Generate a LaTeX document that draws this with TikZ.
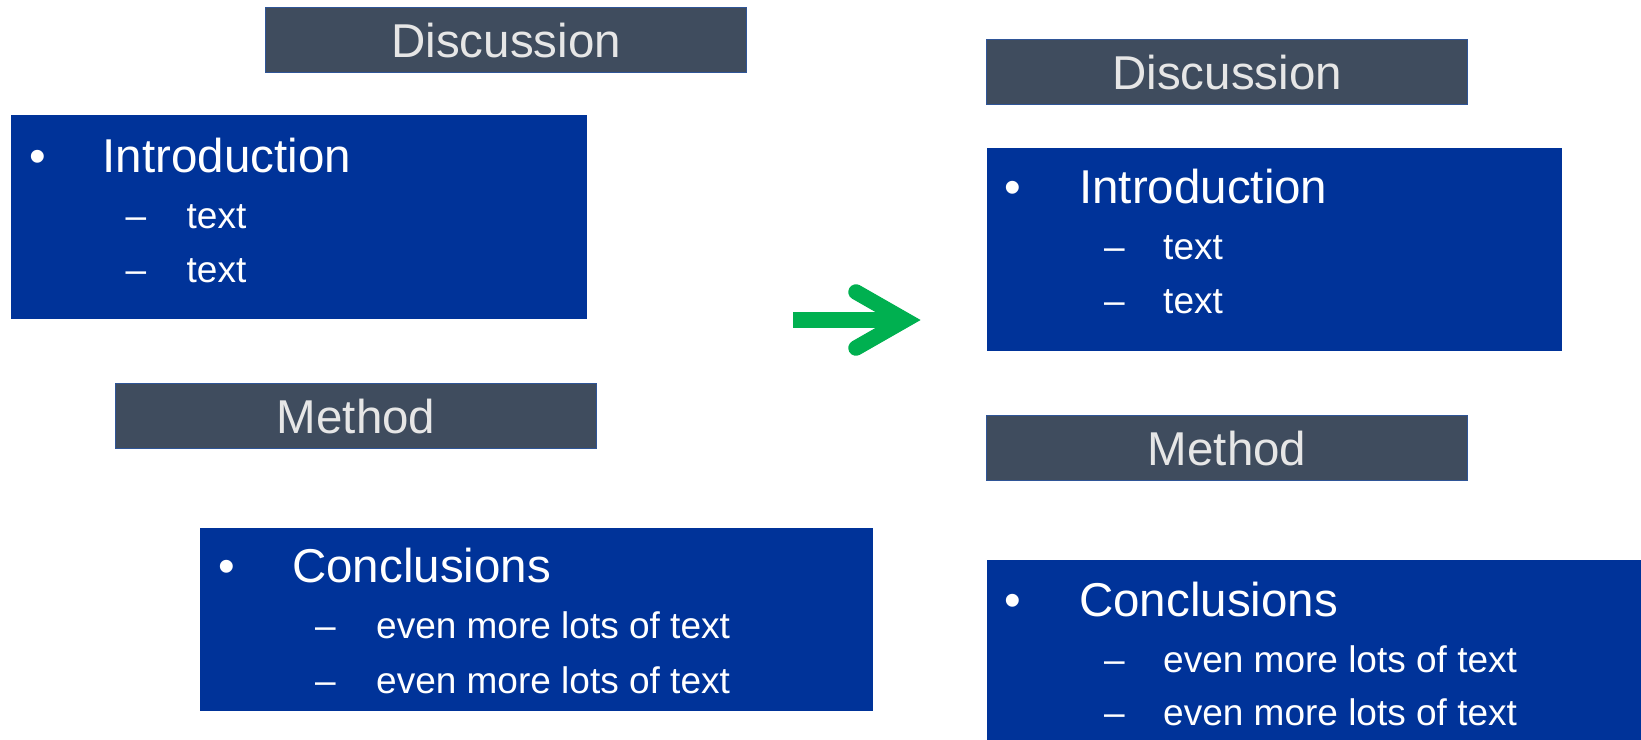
\documentclass[tikz,border=0pt]{standalone}
\usepackage{fontspec}
\setmainfont{Liberation Sans}
\definecolor{hdr}{HTML}{3F4C5E}
\definecolor{hdrline}{HTML}{2F5597}
\definecolor{boxblue}{HTML}{003399}
\definecolor{hdrtext}{HTML}{E6E6E6}
\definecolor{arrgreen}{HTML}{00B050}
\tikzset{
  hdrbox/.style={draw=hdrline, line width=1.3pt, fill=hdr, text=hdrtext,
    font=\fontsize{47.5}{57}\selectfont, minimum width=481pt, minimum height=65pt,
    inner sep=0pt, anchor=north west, text height=34pt, text depth=0pt},
  listbox/.style={fill=boxblue, inner sep=0pt, anchor=north west},
  bulletmark/.style={text=white, font=\fontsize{47.5}{57}\selectfont, anchor=base, inner sep=0pt},
  mainitem/.style={text=white, font=\fontsize{47.5}{57}\selectfont, anchor=base west, inner sep=0pt},
  subitem/.style={text=white, font=\fontsize{37}{44}\selectfont, anchor=base west, inner sep=0pt},
  arrowline/.style={draw=arrgreen, line width=15.5pt}
}
\begin{document}
\begin{tikzpicture}[x=1pt,y=-1pt]
\useasboundingbox (0,0) rectangle (1641,739);

% ---------- left column ----------
\node[hdrbox] (discL) at (265,7) {Discussion};

\node[listbox, minimum width=576pt, minimum height=204pt] (introL) at (10.5,115) {};
\node[bulletmark] (introLb) at ([shift={(27,57)}]introL.north west) {•};
\node[mainitem] (introLt) at ([shift={(92,57)}]introL.north west) {Introduction};
\node[subitem] (introLd1) at ([shift={(115,113)}]introL.north west) {–};
\node[subitem] (introLs1) at ([shift={(176,113)}]introL.north west) {text};
\node[subitem] (introLd2) at ([shift={(115,167)}]introL.north west) {–};
\node[subitem] (introLs2) at ([shift={(176,167)}]introL.north west) {text};

\node[hdrbox] (methL) at (115,383) {Method};

\node[listbox, minimum width=673pt, minimum height=183pt] (conclL) at (200,528) {};
\node[bulletmark] (conclLb) at ([shift={(27,54)}]conclL.north west) {•};
\node[mainitem] (conclLt) at ([shift={(92,54)}]conclL.north west) {Conclusions};
\node[subitem] (conclLd1) at ([shift={(115,110)}]conclL.north west) {–};
\node[subitem] (conclLs1) at ([shift={(176,110)}]conclL.north west) {even more lots of text};
\node[subitem] (conclLd2) at ([shift={(115,165)}]conclL.north west) {–};
\node[subitem] (conclLs2) at ([shift={(176,165)}]conclL.north west) {even more lots of text};

% ---------- arrow ----------
\coordinate (ashaft) at (793,320);
\coordinate (ajoint) at (905,320);
\coordinate (aup) at (856,292);
\coordinate (adown) at (856,348);
\draw[arrowline] (ashaft) -- (ajoint);
\draw[arrowline, line cap=round, miter limit=10] (aup) -- (ajoint) -- (adown);

% ---------- right column ----------
\node[hdrbox] (discR) at (986,39) {Discussion};

\node[listbox, minimum width=575pt, minimum height=203pt] (introR) at (987,148) {};
\node[bulletmark] (introRb) at ([shift={(26,55)}]introR.north west) {•};
\node[mainitem] (introRt) at ([shift={(92,55)}]introR.north west) {Introduction};
\node[subitem] (introRd1) at ([shift={(117,111)}]introR.north west) {–};
\node[subitem] (introRs1) at ([shift={(176,111)}]introR.north west) {text};
\node[subitem] (introRd2) at ([shift={(117,165)}]introR.north west) {–};
\node[subitem] (introRs2) at ([shift={(176,165)}]introR.north west) {text};

\node[hdrbox] (methR) at (986,415) {Method};

\node[listbox, minimum width=660pt, minimum height=200pt] (conclR) at (987,560) {};
\node[bulletmark] (conclRb) at ([shift={(26,56)}]conclR.north west) {•};
\node[mainitem] (conclRt) at ([shift={(92,56)}]conclR.north west) {Conclusions};
\node[subitem] (conclRd1) at ([shift={(117,112)}]conclR.north west) {–};
\node[subitem] (conclRs1) at ([shift={(176,112)}]conclR.north west) {even more lots of text};
\node[subitem] (conclRd2) at ([shift={(117,165)}]conclR.north west) {–};
\node[subitem] (conclRs2) at ([shift={(176,165)}]conclR.north west) {even more lots of text};
\end{tikzpicture}
\end{document}
